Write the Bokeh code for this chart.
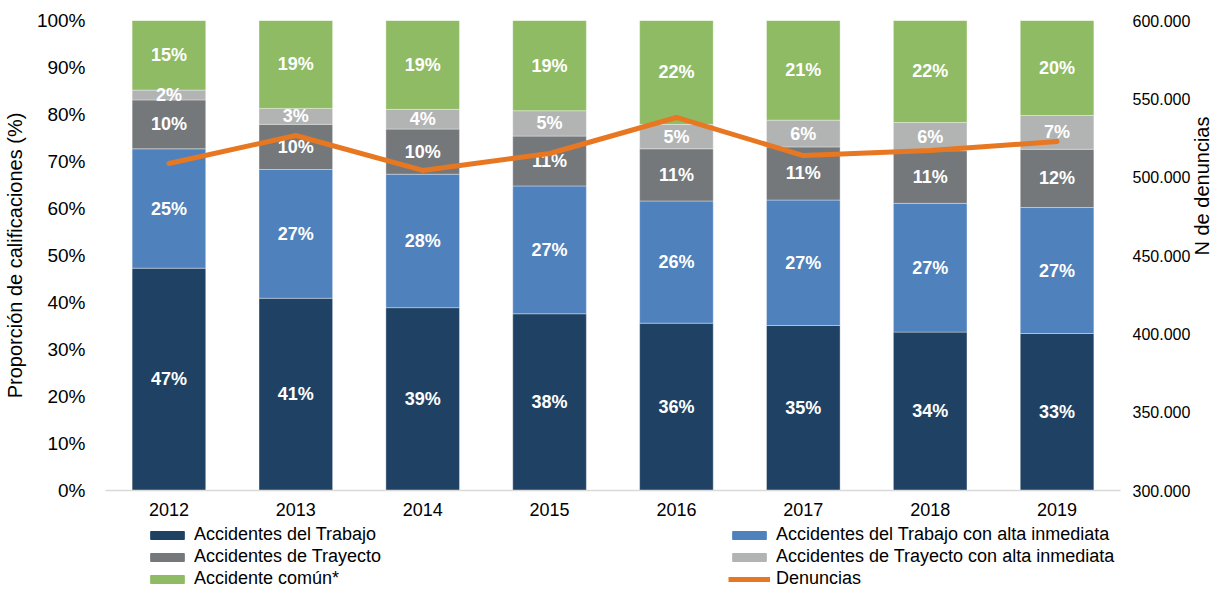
import math
from bokeh.plotting import figure
from bokeh.layouts import column
from bokeh.models import (ColumnDataSource, Range1d, LinearAxis, FixedTicker,
                          PrintfTickFormatter, CustomJSTickFormatter, Legend, LegendItem)
from bokeh.core.properties import value
from bokeh.embed import file_html
from bokeh.resources import INLINE

# ---------------- data ----------------
years = ["2012", "2013", "2014", "2015", "2016", "2017", "2018", "2019"]
acc_trabajo = [47.3, 40.9, 38.9, 37.6, 35.6, 35.1, 33.7, 33.4]
acc_trabajo_alta = [25.4, 27.4, 28.4, 27.2, 26.0, 26.7, 27.4, 26.8]
acc_trayecto = [10.4, 9.6, 9.6, 10.6, 11.1, 11.3, 11.2, 12.4]
acc_trayecto_alta = [2.1, 3.4, 4.2, 5.4, 5.2, 5.7, 6.0, 7.2]
acc_comun = [14.8, 18.7, 18.9, 19.2, 22.1, 21.2, 21.7, 20.2]
denuncias = [508700, 526600, 504300, 515100, 538100, 513800, 517000, 522800]

series_names = ["Accidentes del Trabajo", "Accidentes del Trabajo con alta inmediata",
                "Accidentes de Trayecto", "Accidentes de Trayecto con alta inmediata",
                "Accidente común*"]
line_name = "Denuncias"
series_keys = ["trab", "trab_alta", "tray", "tray_alta", "comun"]
series_vals = [acc_trabajo, acc_trabajo_alta, acc_trayecto, acc_trayecto_alta, acc_comun]
colors = ["#1F4264", "#4F81BD", "#75787B", "#B2B4B4", "#8FBB65"]
line_color = "#E87722"

FONT = "Liberation Sans"

data = {"years": years}
for k, v in zip(series_keys, series_vals):
    data[k] = v
src = ColumnDataSource(data)

p = figure(x_range=years, y_range=Range1d(0, 100), width=1227, height=523,
           output_backend="svg", toolbar_location=None,
           min_border_left=103, min_border_right=105, min_border_top=20, min_border_bottom=33)
p.outline_line_color = None
p.xgrid.grid_line_color = None
p.ygrid.grid_line_color = None
p.background_fill_color = "white"

bars = p.vbar_stack(series_keys, x="years", width=0.58, source=src, color=colors,
                    line_color="white", line_alpha=0.35, line_width=1)

# labels inside segments
lab_x, lab_y, lab_t = [], [], []
for i, yr in enumerate(years):
    base = 0.0
    for vals in series_vals:
        v = vals[i]
        lab_x.append(yr)
        lab_y.append(base + v / 2.0)
        lab_t.append(f"{round(v)}%")
        base += v
lsrc = ColumnDataSource(dict(x=lab_x, y=lab_y, t=lab_t))
p.text(x="x", y="y", text="t", source=lsrc, text_color="white",
       text_font=value(FONT), text_font_style="bold", text_font_size="18px",
       text_align="center", text_baseline="middle")

# secondary axis / line
p.extra_y_ranges = {"den": Range1d(300000, 600000)}
ln = p.line(x=years, y=denuncias, y_range_name="den", line_color=line_color,
            line_width=5, line_cap="round", line_join="round")

# axes styling
xa = p.xaxis[0]
xa.axis_line_color = "#D9D9D9"
xa.axis_line_width = 1.5
xa.major_tick_line_color = None
xa.minor_tick_line_color = None
xa.major_tick_out = 0
xa.minor_tick_out = 0
xa.major_label_text_font = FONT
xa.major_label_text_font_size = "18px"
xa.major_label_text_color = "#000000"
xa.major_label_standoff = 12

ya = p.yaxis[0]
ya.ticker = FixedTicker(ticks=list(range(0, 101, 10)))
ya.formatter = PrintfTickFormatter(format="%d%%")
ya.axis_line_color = None
ya.major_tick_line_color = None
ya.minor_tick_line_color = None
ya.major_tick_out = 0
ya.minor_tick_out = 0
ya.major_label_text_font = FONT
ya.major_label_text_font_size = "19px"
ya.major_label_text_color = "#000000"
ya.major_label_standoff = 20
ya.axis_label = "Proporción de calificaciones (%)"
ya.axis_label_text_font = FONT
ya.axis_label_text_font_size = "20px"
ya.axis_label_text_font_style = "normal"
ya.axis_label_text_color = "#000000"
ya.axis_label_standoff = 8

ra = LinearAxis(y_range_name="den")
ra.ticker = FixedTicker(ticks=list(range(300000, 600001, 50000)))
ra.formatter = CustomJSTickFormatter(code="""
return Math.round(tick).toString().replace(/\\B(?=(\\d{3})+(?!\\d))/g, '.');
""")
ra.axis_line_color = None
ra.major_tick_line_color = None
ra.minor_tick_line_color = None
ra.major_tick_out = 0
ra.minor_tick_out = 0
ra.major_label_text_font = FONT
ra.major_label_text_font_size = "16px"
ra.major_label_text_color = "#000000"
ra.major_label_standoff = 12
ra.axis_label = "N de denuncias"
ra.axis_label_text_font = FONT
ra.axis_label_text_font_size = "20px"
ra.axis_label_text_font_style = "normal"
ra.axis_label_text_color = "#000000"
ra.axis_label_standoff = 9
ra.axis_label_orientation = math.pi / 2
p.add_layout(ra, "right")

# ---------------- legend strip (separate figure) ----------------
pl = figure(width=1227, height=66, output_backend="svg", toolbar_location=None,
            x_range=years, y_range=Range1d(1000, 1001),
            x_axis_type=None, y_axis_type=None,
            min_border_left=0, min_border_right=0, min_border_top=0, min_border_bottom=0)
pl.outline_line_color = None
pl.xgrid.grid_line_color = None
pl.ygrid.grid_line_color = None

# legend swatches re-use the same series (drawn outside the visible range of this strip)
lbars = pl.vbar_stack(series_keys, x="years", width=0.58, source=src, color=colors)
lline = pl.line(x=years, y=denuncias, line_color=line_color, line_width=5)

items = [LegendItem(label=n, renderers=[r]) for n, r in zip(series_names, lbars)]
items.append(LegendItem(label=line_name, renderers=[lline]))

legend = Legend(items=items, location=(41, 0), orientation="horizontal", ncols=2,
                label_text_font=FONT, label_text_font_size="18px", label_text_color="#000000",
                glyph_width=42, glyph_height=10, label_standoff=6, label_width=533,
                label_height=19, spacing=1, padding=0, margin=0,
                border_line_alpha=0, background_fill_alpha=0)
pl.add_layout(legend, "center")

layout = column(p, pl, spacing=0)
open("out.html", "w").write(file_html(layout, INLINE))
